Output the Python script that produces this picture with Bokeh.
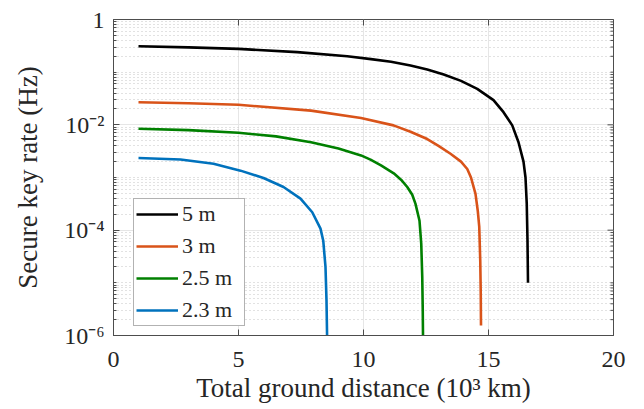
import math
from bokeh.plotting import figure
from bokeh.models import Range1d, FixedTicker, Legend, LegendItem
from bokeh.embed import file_html
from bokeh.resources import INLINE

# ---- data ----
x_5m = [1.0, 3.0, 5.0, 7.35, 9.35, 10.3, 11.1, 11.88, 12.55, 13.21, 13.9, 14.55, 15.2, 15.6, 15.95, 16.2,
        16.4, 16.48, 16.53, 16.56, 16.58]
y_5m = [0.311, 0.295, 0.277, 0.240, 0.200, 0.177, 0.158, 0.134, 0.112, 0.0902, 0.0684, 0.0482, 0.0295,
        0.0174, 0.00977, 0.00468, 0.00200, 0.00100, 3.16e-4, 6.3e-5, 1.0e-5]

x_3m = [1.0, 3.0, 5.0, 7.9, 9.9, 11.2, 11.88, 12.55, 13.0, 13.48, 13.9, 14.15, 14.3, 14.48, 14.57, 14.63,
        14.67, 14.69, 14.70]
y_3m = [0.0269, 0.0257, 0.0240, 0.0186, 0.0135, 0.00977, 0.00741, 0.00537, 0.00398, 0.00282, 0.00200,
        0.00145, 0.00100, 4.9e-4, 2.34e-4, 1.15e-4, 2.63e-5, 6.2e-6, 1.55e-6]

x_25m = [1.0, 3.0, 5.0, 6.5, 7.9, 9.0, 9.9, 10.28, 10.7, 11.21, 11.5, 11.75, 11.95, 12.08, 12.24, 12.31,
         12.35, 12.37, 12.39]
y_25m = [0.00841, 0.00794, 0.00708, 0.00603, 0.00468, 0.00355, 0.00263, 0.00219, 0.00170, 0.00120, 9.1e-4,
         6.6e-4, 4.7e-4, 3.16e-4, 1.51e-4, 5.5e-5, 1.29e-5, 3.0e-6, 3.2e-7]

x_23m = [1.0, 2.68, 4.0, 5.08, 6.0, 6.8, 7.48, 7.95, 8.28, 8.39, 8.48, 8.52, 8.56]
y_23m = [0.00234, 0.00219, 0.00182, 0.00135, 9.8e-4, 6.6e-4, 3.98e-4, 2.19e-4, 1.07e-4, 6.3e-5, 2.0e-5,
         4.6e-6, 3.2e-7]

series_labels = ["5 m", "3 m", "2.5 m", "2.3 m"]
series_colors = ["#000000", "#D95319", "#008000", "#0072BD"]

x_min, x_max = 0, 20
y_min, y_max = 1e-6, 1.0
x_ticks = [0, 5, 10, 15, 20]
y_ticks = [1e-6, 1e-4, 1e-2, 1.0]
y_tick_labels = ["10\u207b\u2076", "10\u207b\u2074", "10\u207b\u00b2", "1"]
y_minor = [m * 10.0 ** e for e in range(-6, 0) for m in range(1, 10)]
y_minor = [v for v in y_minor if v not in y_ticks]

x_title = "Total ground distance (10\u00b3 km)"
y_title = "Secure key rate (Hz)"

FONT = "Liberation Serif"
AXC = "#4d4d4d"
TXT = "#262626"

p = figure(width=644, height=409, output_backend="svg", toolbar_location=None,
           y_axis_type="log", x_range=Range1d(x_min, x_max), y_range=Range1d(y_min, y_max),
           min_border_left=113, min_border_right=31, min_border_top=19, min_border_bottom=74)

p.outline_line_color = AXC
p.outline_line_width = 1
p.background_fill_color = "white"
p.border_fill_color = "white"

xt = FixedTicker(ticks=x_ticks, minor_ticks=[])
yt = FixedTicker(ticks=y_ticks, minor_ticks=y_minor)

p.xaxis.ticker = xt
p.yaxis.ticker = yt
p.yaxis.major_label_overrides = {v: s for v, s in zip(y_ticks, y_tick_labels)}

for ax in (p.xaxis[0], p.yaxis[0]):
    ax.axis_line_color = AXC
    ax.major_tick_line_color = AXC
    ax.minor_tick_line_color = AXC
    ax.major_tick_in = 6
    ax.major_tick_out = 0
    ax.minor_tick_in = 3
    ax.minor_tick_out = 0
    ax.major_label_text_font = FONT
    ax.major_label_text_font_size = "24px"
    ax.major_label_text_color = TXT
    ax.axis_label_text_font = FONT
    ax.axis_label_text_font_size = "27px"
    ax.axis_label_text_font_style = "normal"
    ax.axis_label_text_color = TXT

p.xaxis.axis_label = x_title
p.yaxis.axis_label = y_title
p.xaxis.major_label_standoff = 16
p.xaxis.axis_label_standoff = 3
p.yaxis.major_label_standoff = 9
p.yaxis.axis_label_standoff = 18

# grids
p.xgrid.ticker = xt
p.ygrid.ticker = yt
p.xgrid.grid_line_color = "#e6e6e6"
p.ygrid.grid_line_color = "#e6e6e6"
p.xgrid.grid_line_width = 1
p.ygrid.grid_line_width = 1
p.ygrid.minor_grid_line_color = "#c4c4c4"
p.ygrid.minor_grid_line_dash = "1 3"
p.ygrid.minor_grid_line_width = 1

# box ticks on top and right edges (half of each dash is clipped by the frame)
p.scatter(x_ticks, [y_max] * len(x_ticks), marker="dash", size=12, angle=math.pi / 2,
          line_color=AXC, line_width=1)
p.scatter([x_max] * len(y_ticks), y_ticks, marker="dash", size=12, line_color=AXC, line_width=1)
p.scatter([x_max] * len(y_minor), y_minor, marker="dash", size=6, line_color=AXC, line_width=1)

renderers = []
for xs, ys, c in zip([x_5m, x_3m, x_25m, x_23m], [y_5m, y_3m, y_25m, y_23m], series_colors):
    r = p.line(xs, ys, line_color=c, line_width=2.6, line_join="round")
    renderers.append(r)

legend = Legend(items=[LegendItem(label=l, renderers=[r]) for l, r in zip(series_labels, renderers)],
                location=(20, 9))
legend.label_text_font = FONT
legend.label_text_font_size = "22px"
legend.label_text_color = TXT
legend.glyph_width = 42
legend.glyph_height = 20
legend.label_height = 20
legend.label_width = 60
legend.label_standoff = 4
legend.padding = 2
legend.spacing = 6
legend.margin = 0
legend.border_line_color = "#666666"
legend.border_line_width = 1
legend.background_fill_alpha = 1.0
p.add_layout(legend, "center")

open("out.html", "w").write(file_html(p, INLINE))
